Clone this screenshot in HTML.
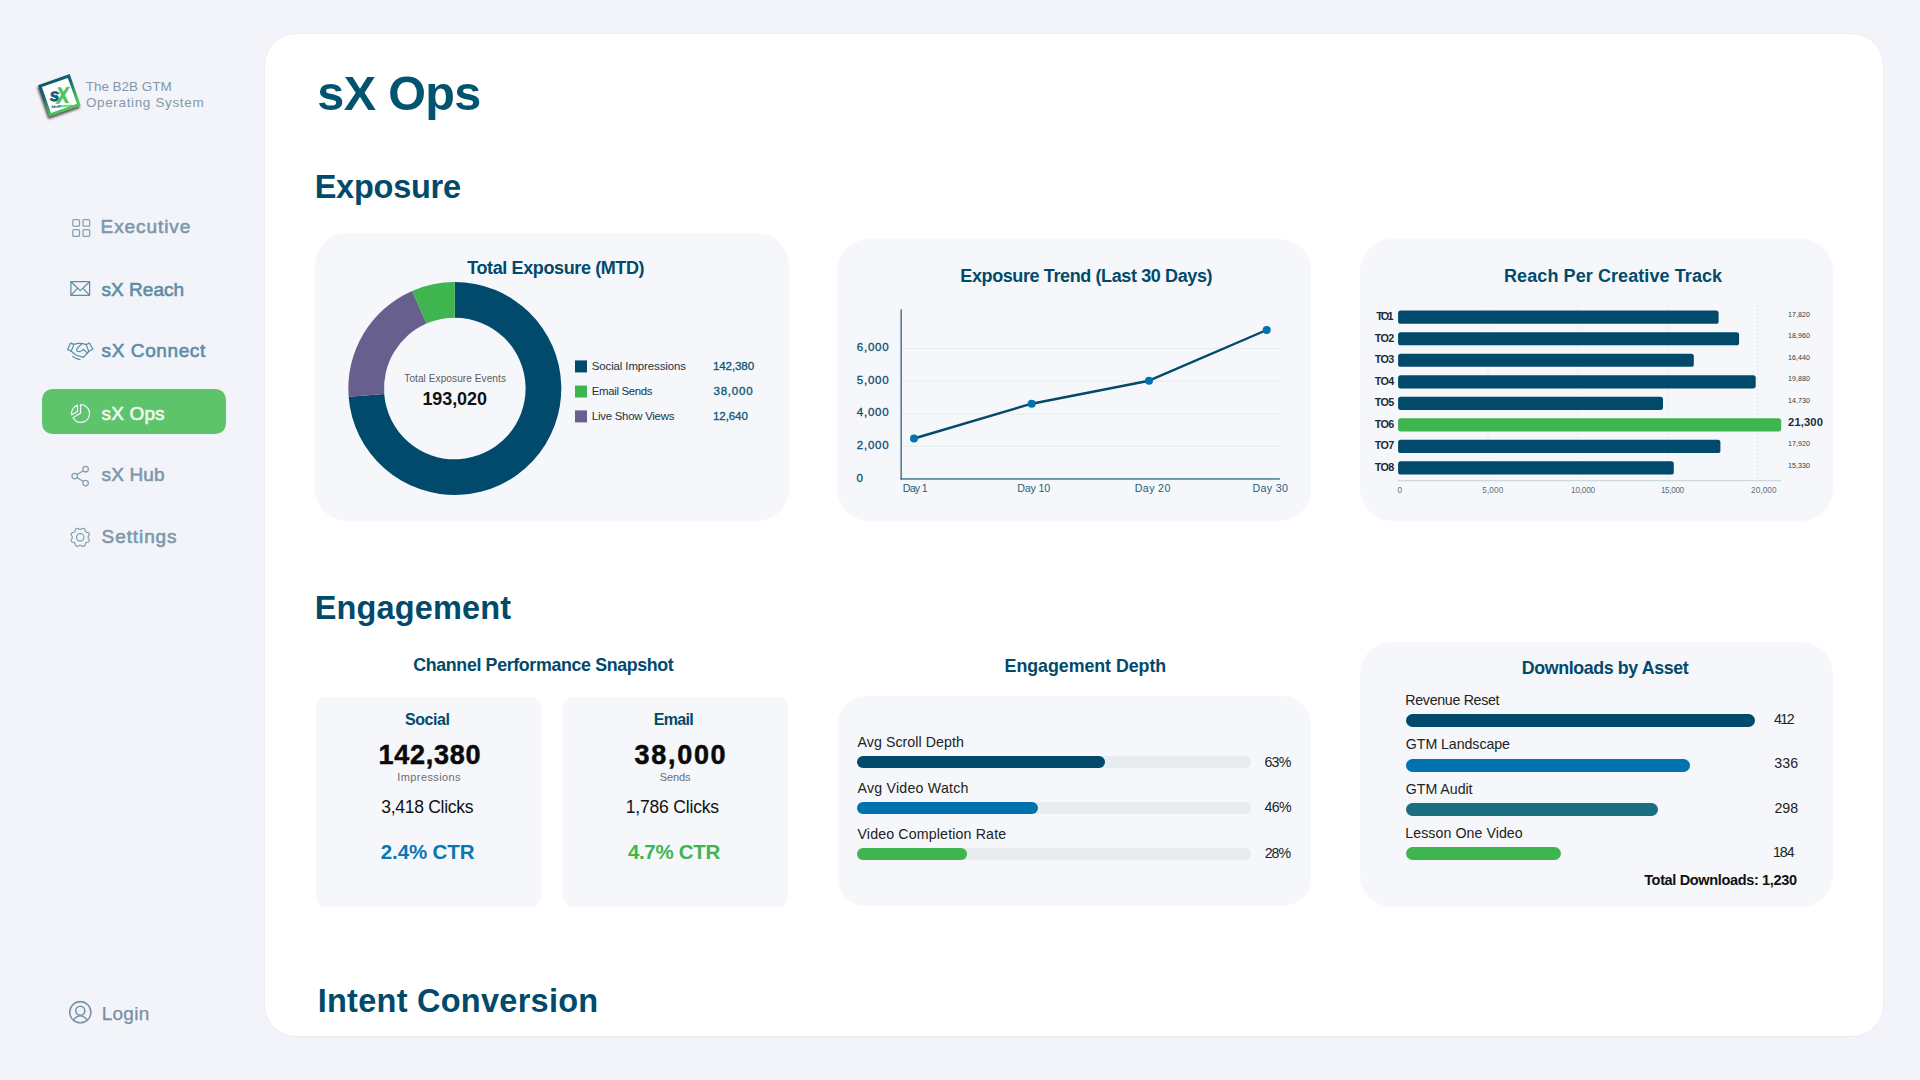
<!DOCTYPE html>
<html lang="en">
<head>
<meta charset="utf-8">
<title>sX Ops</title>
<style>
*{box-sizing:border-box;margin:0;padding:0}
html,body{width:1920px;height:1080px;overflow:hidden;background:#f2f4f9;font-family:"Liberation Sans",sans-serif}
.t{position:absolute;white-space:nowrap;line-height:1;font-weight:400}
.panel{position:absolute;left:264px;top:33px;width:1620px;height:1004px;background:#fff;border:1px solid #ececef;border-radius:32px}
.card{position:absolute;background:#f5f7fb;border-radius:32px}
.pill{position:absolute;left:42px;top:388.5px;width:184.2px;height:45.5px;border-radius:10.5px;background:#5dc46c}
.bar{position:absolute;border-radius:7px}
svg{position:absolute;left:0;top:0;overflow:visible}
</style>
</head>
<body>
<div class="panel"></div>
<div class="pill"></div>
<!-- exposure cards -->
<div class="card" style="left:315px;top:233px;width:473.5px;height:288px"></div>
<div class="card" style="left:837px;top:239px;width:473.5px;height:282px"></div>
<div class="card" style="left:1359.5px;top:239px;width:473px;height:282px"></div>
<!-- engagement cards -->
<div class="card" style="left:316px;top:697px;width:225px;height:209.5px;border-radius:10px"></div>
<div class="card" style="left:563px;top:697px;width:225px;height:209.5px;border-radius:10px"></div>
<div class="card" style="left:837.5px;top:696.2px;width:473px;height:210px;border-radius:28px"></div>
<div class="card" style="left:1360px;top:642px;width:473px;height:265.2px"></div>
<!-- engagement depth bars -->
<div class="bar" style="left:857px;top:756.2px;width:394px;height:12.2px;background:#e6ecf0"></div>
<div class="bar" style="left:857px;top:756.2px;width:248.4px;height:12.2px;background:#024a6b"></div>
<div class="bar" style="left:857px;top:802px;width:394px;height:12.2px;background:#e6ecf0"></div>
<div class="bar" style="left:857px;top:802px;width:181.4px;height:12.2px;background:#0073ae"></div>
<div class="bar" style="left:857px;top:848px;width:394px;height:12.2px;background:#e6ecf0"></div>
<div class="bar" style="left:857px;top:848px;width:110.4px;height:12.2px;background:#3fb550"></div>
<!-- downloads bars -->
<div class="bar" style="left:1405.6px;top:714.2px;width:349.2px;height:13.1px;background:#024a6b"></div>
<div class="bar" style="left:1405.6px;top:758.8px;width:284.6px;height:13.1px;background:#0073ae"></div>
<div class="bar" style="left:1405.6px;top:803.1px;width:252.3px;height:13.1px;background:#196e82"></div>
<div class="bar" style="left:1405.6px;top:847.4px;width:155.6px;height:13.1px;background:#3fb550"></div>

<svg width="1920" height="1080" viewBox="0 0 1920 1080">
<defs>
<linearGradient id="lg" x1="0" y1="0" x2="0.25" y2="1"><stop offset="0" stop-color="#0b5872"/><stop offset="0.4" stop-color="#17696f"/><stop offset="1" stop-color="#4fc35a"/></linearGradient>
<filter id="sh" x="-30%" y="-30%" width="160%" height="160%"><feGaussianBlur stdDeviation="0.9"/></filter>
</defs>
<!-- logo -->
<g transform="translate(59.4 95.4) rotate(-19.3)">
<rect x="-18.3" y="-15.0" width="33.5" height="33.8" fill="#3a2626" opacity="0.8" filter="url(#sh)"/>
<rect x="-15.25" y="-15.25" width="30.5" height="30.5" fill="#fff" stroke="url(#lg)" stroke-width="3"/>
</g>
<g font-family="Liberation Sans, sans-serif" font-weight="700" font-style="italic" transform="rotate(-4 60 96)">
<text x="49.6" y="100.6" font-size="17.5" fill="#0b5f7a" stroke="#0b5f7a" stroke-width="0.7">s</text>
<text transform="translate(56.6 103.2) scale(0.84 1)" x="0" y="0" font-size="22.5" fill="#4fc35a" stroke="#4fc35a" stroke-width="0.7">X</text>
<text x="50.6" y="107.2" font-size="2.9" fill="#0b5f7a" stroke="#0b5f7a" stroke-width="0.2">SALES<tspan fill="#4fc35a" stroke="#4fc35a">Xchange</tspan></text>
</g>
<g fill="none" stroke="#84a0b1" stroke-width="1.25">
<rect x="72.8" y="219.5" width="6.7" height="6.7" rx="1"/>
<rect x="83.0" y="219.5" width="6.7" height="6.7" rx="1"/>
<rect x="72.8" y="229.7" width="6.7" height="6.7" rx="1"/>
<rect x="83.0" y="229.7" width="6.7" height="6.7" rx="1"/>
</g>
<g fill="none" stroke="#5c8da6" stroke-width="1.25" stroke-linejoin="round"><rect x="70.9" y="281.7" width="18.7" height="13.7"/><path d="M70.9 281.7L80.25 290.6L89.6 281.7M70.9 295.4L77.6 288.1M89.6 295.4L82.9 288.1"/></g>
<g fill="none" stroke="#5c8da6" stroke-width="1.2" stroke-linejoin="round" stroke-linecap="round"><path d="M70.6 343.1L73.9 344.4L71.2 351.3L67.6 349.4Z"/><path d="M89.4 343.0L86.2 344.6L88.8 351.5L92.9 349.3Z"/><path d="M73.9 344.4Q79.9 342.2 86.2 344.6"/><path d="M81.6 344.0L77.0 348.6Q75.9 350.6 78.0 351.4Q80.6 352.2 83.4 349.4L87.1 352.7"/><path d="M71.2 351.3L76.4 355.2L83.4 357.4L88.8 351.5"/><path d="M72.6 356.4Q75.5 358.7 80.0 359.6"/></g>
<g fill="none" stroke="#f0f0fa" stroke-width="1.3" stroke-linejoin="round"><path d="M80.6 404.7L80.6 413.1L73.0 417.8A8.85 8.85 0 1 0 80.6 404.7Z"/><path d="M77.5 405.2L77.5 411.5L71.6 414.9A8.85 8.85 0 0 1 77.5 405.2Z"/></g>
<g fill="none" stroke="#84a0b1" stroke-width="1.25"><circle cx="85.6" cy="469.2" r="2.75"/><circle cx="74.7" cy="476.1" r="2.75"/><circle cx="85.6" cy="483.0" r="2.75"/><path d="M77.1 474.6L83.2 470.7M77.1 477.6L83.2 481.5"/></g>
<g fill="none" stroke="#84a0b1" stroke-width="1.25" stroke-linejoin="round"><path d="M80.22 529.46L80.53 529.44L80.85 529.37L81.18 529.25L81.53 529.09L81.93 528.78L82.35 528.49L82.75 528.37L83.15 528.34L83.53 528.38L83.89 528.49L84.23 528.67L84.53 528.91L84.78 529.21L84.99 529.58L85.08 530.08L85.14 530.58L85.27 530.95L85.43 531.26L85.60 531.54L85.81 531.77L86.04 531.98L86.32 532.15L86.63 532.31L87.00 532.44L87.50 532.50L88.00 532.59L88.37 532.80L88.67 533.05L88.91 533.35L89.09 533.69L89.20 534.05L89.24 534.43L89.21 534.83L89.09 535.23L88.80 535.65L88.49 536.05L88.33 536.40L88.21 536.73L88.14 537.05L88.12 537.36L88.14 537.67L88.21 537.99L88.33 538.32L88.49 538.67L88.80 539.07L89.09 539.49L89.21 539.89L89.24 540.29L89.20 540.67L89.09 541.03L88.91 541.37L88.67 541.67L88.37 541.92L88.00 542.13L87.50 542.22L87.00 542.28L86.63 542.41L86.32 542.57L86.04 542.74L85.81 542.95L85.60 543.18L85.43 543.46L85.27 543.77L85.14 544.14L85.08 544.64L84.99 545.14L84.78 545.51L84.53 545.81L84.23 546.05L83.89 546.23L83.53 546.34L83.15 546.38L82.75 546.35L82.35 546.23L81.93 545.94L81.53 545.63L81.18 545.47L80.85 545.35L80.53 545.28L80.22 545.26L79.91 545.28L79.59 545.35L79.26 545.47L78.91 545.63L78.51 545.94L78.09 546.23L77.69 546.35L77.29 546.38L76.91 546.34L76.55 546.23L76.21 546.05L75.91 545.81L75.66 545.51L75.45 545.14L75.36 544.64L75.30 544.14L75.17 543.77L75.01 543.46L74.84 543.18L74.63 542.95L74.40 542.74L74.12 542.57L73.81 542.41L73.44 542.28L72.94 542.22L72.44 542.13L72.07 541.92L71.77 541.67L71.53 541.37L71.35 541.03L71.24 540.67L71.20 540.29L71.23 539.89L71.35 539.49L71.64 539.07L71.95 538.67L72.11 538.32L72.23 537.99L72.30 537.67L72.32 537.36L72.30 537.05L72.23 536.73L72.11 536.40L71.95 536.05L71.64 535.65L71.35 535.23L71.23 534.83L71.20 534.43L71.24 534.05L71.35 533.69L71.53 533.35L71.77 533.05L72.07 532.80L72.44 532.59L72.94 532.50L73.44 532.44L73.81 532.31L74.12 532.15L74.40 531.98L74.63 531.77L74.84 531.54L75.01 531.26L75.17 530.95L75.30 530.58L75.36 530.08L75.45 529.58L75.66 529.21L75.91 528.91L76.21 528.67L76.55 528.49L76.91 528.38L77.29 528.34L77.69 528.37L78.09 528.49L78.51 528.78L78.91 529.09L79.26 529.25L79.59 529.37L79.91 529.44Z"/><circle cx="80.22" cy="537.36" r="3.7"/></g>
<g fill="none" stroke="#7c95a6" stroke-width="1.6"><circle cx="80.3" cy="1012.2" r="10.6"/><circle cx="80.3" cy="1010.7" r="4.5"/><path d="M73.3 1020.2Q80.3 1011.2 87.3 1020.2"/></g>
<path d="M454.80 282.00A106.5 106.5 0 1 1 348.62 396.76L384.21 393.99A70.8 70.8 0 1 0 454.80 317.70Z" fill="#024a6b"/>
<path d="M348.62 396.76A106.5 106.5 0 0 1 412.21 290.89L426.48 323.61A70.8 70.8 0 0 0 384.21 393.99Z" fill="#675f8d"/>
<path d="M412.21 290.89A106.5 106.5 0 0 1 454.80 282.00L454.80 317.70A70.8 70.8 0 0 0 426.48 323.61Z" fill="#3fb550"/>
<rect x="575" y="360.4" width="12" height="12" fill="#024a6b"/>
<rect x="575" y="385.5" width="12" height="12" fill="#3fb550"/>
<rect x="575" y="410.4" width="12" height="12" fill="#675f8d"/>
<rect x="901.5" y="348.0" width="378.4" height="1" fill="#e9ebee"/>
<rect x="901.5" y="380.8" width="378.4" height="1" fill="#e9ebee"/>
<rect x="901.5" y="413.7" width="378.4" height="1" fill="#e9ebee"/>
<rect x="901.5" y="445.8" width="378.4" height="1" fill="#e9ebee"/>
<rect x="900.5" y="309.3" width="1.3" height="170.3" fill="#2a6480"/>
<rect x="900.5" y="478.3" width="379.4" height="1.3" fill="#2a6480"/>
<path d="M914 438.5L1031.7 403.7L1149 380.7L1266.7 330" fill="none" stroke="#024a6b" stroke-width="2.4" stroke-linejoin="round"/>
<circle cx="914" cy="438.5" r="4" fill="#0073ae"/>
<circle cx="1031.7" cy="403.7" r="4" fill="#0073ae"/>
<circle cx="1149" cy="380.7" r="4" fill="#0073ae"/>
<circle cx="1266.7" cy="330" r="4" fill="#0073ae"/>
<path d="M1488.0 305V480" stroke="#e3e7ec" stroke-width="1" stroke-dasharray="2 2"/>
<path d="M1578.0 305V480" stroke="#e3e7ec" stroke-width="1" stroke-dasharray="2 2"/>
<path d="M1667.9 305V480" stroke="#e3e7ec" stroke-width="1" stroke-dasharray="2 2"/>
<path d="M1757.8 305V480" stroke="#e3e7ec" stroke-width="1" stroke-dasharray="2 2"/>
<rect x="1398.1" y="310.60" width="320.5" height="13.2" rx="2.6" fill="#024a6b"/>
<rect x="1398.1" y="332.13" width="341.0" height="13.2" rx="2.6" fill="#024a6b"/>
<rect x="1398.1" y="353.66" width="295.7" height="13.2" rx="2.6" fill="#024a6b"/>
<rect x="1398.1" y="375.19" width="357.6" height="13.2" rx="2.6" fill="#024a6b"/>
<rect x="1398.1" y="396.72" width="264.9" height="13.2" rx="2.6" fill="#024a6b"/>
<rect x="1398.1" y="418.25" width="383.1" height="13.2" rx="2.6" fill="#3fb550"/>
<rect x="1398.1" y="439.78" width="322.3" height="13.2" rx="2.6" fill="#024a6b"/>
<rect x="1398.1" y="461.31" width="275.7" height="13.2" rx="2.6" fill="#024a6b"/>
<rect x="1398.1" y="480.2" width="383.1" height="1" fill="#c3d1d9"/>
</svg>
<aside>
<nav>
<span class="t" style="left:85.70px;top:79px;line-height:15px;font-size:13.5px;letter-spacing:-0.023px;color:#8299a8;">The B2B GTM</span>
<span class="t" style="left:85.90px;top:95px;line-height:15px;font-size:13.5px;letter-spacing:0.647px;color:#8299a8;">Operating System</span>
<span class="t" style="left:100.60px;top:216px;line-height:21px;font-size:19px;letter-spacing:0.924px;color:#7d98aa;-webkit-text-stroke:0.6px currentColor;">Executive</span>
<span class="t" style="left:101.60px;top:279px;line-height:21px;font-size:19px;letter-spacing:0.013px;color:#5c8da6;-webkit-text-stroke:0.6px currentColor;">sX Reach</span>
<span class="t" style="left:101.60px;top:340px;line-height:21px;font-size:19px;letter-spacing:0.596px;color:#5c8da6;-webkit-text-stroke:0.6px currentColor;">sX Connect</span>
<span class="t" style="left:101.60px;top:403px;line-height:21px;font-size:19px;letter-spacing:0.141px;color:#eefaf0;-webkit-text-stroke:0.6px currentColor;">sX Ops</span>
<span class="t" style="left:101.60px;top:464px;line-height:21px;font-size:19px;letter-spacing:0.132px;color:#7d98aa;-webkit-text-stroke:0.6px currentColor;">sX Hub</span>
<span class="t" style="left:101.60px;top:526px;line-height:21px;font-size:19px;letter-spacing:0.907px;color:#7d98aa;-webkit-text-stroke:0.6px currentColor;">Settings</span>
<span class="t" style="left:101.70px;top:1003px;line-height:21px;font-size:19px;letter-spacing:0.270px;color:#7690a2;-webkit-text-stroke:0.25px currentColor;">Login</span>
</nav>
</aside>
<main>
<h1 class="t" style="left:317.30px;top:66px;line-height:54px;font-size:48.5px;font-weight:700;letter-spacing:-0.630px;color:#01546f;">sX Ops</h1>
<h2 class="t" style="left:314.70px;top:169px;line-height:36px;font-size:32.5px;font-weight:700;letter-spacing:-0.247px;color:#024a6b;">Exposure</h2>
<h2 class="t" style="left:314.70px;top:590px;line-height:36px;font-size:32.5px;font-weight:700;letter-spacing:0.155px;color:#024a6b;">Engagement</h2>
<h2 class="t" style="left:317.70px;top:983px;line-height:36px;font-size:32.5px;font-weight:700;letter-spacing:0.262px;color:#024a6b;">Intent Conversion</h2>
<h3 class="t" style="left:467.20px;top:258px;line-height:20px;font-size:18px;font-weight:700;letter-spacing:-0.383px;color:#024a6b;">Total Exposure (MTD)</h3>
<h3 class="t" style="left:960.30px;top:266px;line-height:20px;font-size:18px;font-weight:700;letter-spacing:-0.389px;color:#024a6b;">Exposure Trend (Last 30 Days)</h3>
<h3 class="t" style="left:1504.00px;top:266px;line-height:20px;font-size:18px;font-weight:700;letter-spacing:0.086px;color:#024a6b;">Reach Per Creative Track</h3>
<h3 class="t" style="left:413.30px;top:655px;line-height:20px;font-size:17.8px;font-weight:700;letter-spacing:-0.345px;color:#024a6b;">Channel Performance Snapshot</h3>
<h3 class="t" style="left:1004.60px;top:656px;line-height:20px;font-size:17.8px;font-weight:700;letter-spacing:-0.031px;color:#024a6b;">Engagement Depth</h3>
<h3 class="t" style="left:1521.80px;top:658px;line-height:20px;font-size:17.8px;font-weight:700;letter-spacing:-0.375px;color:#024a6b;">Downloads by Asset</h3>
<span class="t" style="left:404.30px;top:373px;line-height:11px;font-size:10.1px;letter-spacing:0.061px;color:#5c5c5c;">Total Exposure Events</span>
<span class="t" style="left:422.40px;top:389px;line-height:20px;font-size:18px;font-weight:700;letter-spacing:-0.076px;color:#111;">193,020</span>
<span class="t" style="left:591.80px;top:360px;line-height:12px;font-size:11.4px;letter-spacing:-0.088px;color:#22313f;">Social Impressions</span>
<span class="t" style="left:591.80px;top:385px;line-height:12px;font-size:11.4px;letter-spacing:-0.325px;color:#22313f;">Email Sends</span>
<span class="t" style="left:591.80px;top:410px;line-height:12px;font-size:11.4px;letter-spacing:-0.236px;color:#22313f;">Live Show Views</span>
<span class="t" style="left:712.90px;top:359px;line-height:13px;font-size:11.6px;letter-spacing:-0.110px;color:#0f5573;-webkit-text-stroke:0.3px currentColor;">142,380</span>
<span class="t" style="left:713.50px;top:384px;line-height:13px;font-size:11.6px;letter-spacing:0.737px;color:#0f5573;-webkit-text-stroke:0.3px currentColor;">38,000</span>
<span class="t" style="left:713.00px;top:409px;line-height:13px;font-size:11.6px;letter-spacing:-0.123px;color:#0f5573;-webkit-text-stroke:0.3px currentColor;">12,640</span>
<span class="t" style="left:856.70px;top:341px;line-height:12px;font-size:11.5px;letter-spacing:0.804px;color:#0e4d6b;-webkit-text-stroke:0.3px currentColor;">6,000</span>
<span class="t" style="left:856.70px;top:374px;line-height:12px;font-size:11.5px;letter-spacing:0.804px;color:#0e4d6b;-webkit-text-stroke:0.3px currentColor;">5,000</span>
<span class="t" style="left:856.70px;top:406px;line-height:12px;font-size:11.5px;letter-spacing:0.804px;color:#0e4d6b;-webkit-text-stroke:0.3px currentColor;">4,000</span>
<span class="t" style="left:856.70px;top:439px;line-height:12px;font-size:11.5px;letter-spacing:0.804px;color:#0e4d6b;-webkit-text-stroke:0.3px currentColor;">2,000</span>
<span class="t" style="left:856.60px;top:472px;line-height:12px;font-size:11.5px;color:#0e4d6b;-webkit-text-stroke:0.3px currentColor;">0</span>
<span class="t" style="left:902.70px;top:482px;line-height:12px;font-size:10.7px;letter-spacing:-0.744px;color:#245f7c;">Day 1</span>
<span class="t" style="left:1017.30px;top:482px;line-height:12px;font-size:10.7px;letter-spacing:-0.204px;color:#245f7c;">Day 10</span>
<span class="t" style="left:1134.80px;top:482px;line-height:12px;font-size:10.7px;letter-spacing:0.336px;color:#245f7c;">Day 20</span>
<span class="t" style="left:1252.50px;top:482px;line-height:12px;font-size:10.7px;letter-spacing:0.336px;color:#245f7c;">Day 30</span>
<span class="t" style="left:1376.20px;top:310px;line-height:12px;font-size:10.8px;font-weight:700;letter-spacing:-1.749px;color:#1d2b39;">TO1</span>
<span class="t" style="left:1374.70px;top:332px;line-height:12px;font-size:10.8px;font-weight:700;letter-spacing:-0.649px;color:#1d2b39;">TO2</span>
<span class="t" style="left:1374.70px;top:353px;line-height:12px;font-size:10.8px;font-weight:700;letter-spacing:-0.649px;color:#1d2b39;">TO3</span>
<span class="t" style="left:1374.70px;top:375px;line-height:12px;font-size:10.8px;font-weight:700;letter-spacing:-0.649px;color:#1d2b39;">TO4</span>
<span class="t" style="left:1374.70px;top:396px;line-height:12px;font-size:10.8px;font-weight:700;letter-spacing:-0.649px;color:#1d2b39;">TO5</span>
<span class="t" style="left:1374.70px;top:418px;line-height:12px;font-size:10.8px;font-weight:700;letter-spacing:-0.649px;color:#1d2b39;">TO6</span>
<span class="t" style="left:1374.70px;top:439px;line-height:12px;font-size:10.8px;font-weight:700;letter-spacing:-0.649px;color:#1d2b39;">TO7</span>
<span class="t" style="left:1374.70px;top:461px;line-height:12px;font-size:10.8px;font-weight:700;letter-spacing:-0.649px;color:#1d2b39;">TO8</span>
<span class="t" style="left:1788.10px;top:311px;line-height:8px;font-size:7.1px;letter-spacing:0.030px;color:#2f3b47;">17,820</span>
<span class="t" style="left:1788.10px;top:332px;line-height:8px;font-size:7.1px;letter-spacing:0.030px;color:#2f3b47;">18,960</span>
<span class="t" style="left:1788.10px;top:354px;line-height:8px;font-size:7.1px;letter-spacing:0.030px;color:#2f3b47;">16,440</span>
<span class="t" style="left:1788.10px;top:375px;line-height:8px;font-size:7.1px;letter-spacing:0.030px;color:#2f3b47;">19,880</span>
<span class="t" style="left:1788.10px;top:397px;line-height:8px;font-size:7.1px;letter-spacing:0.030px;color:#2f3b47;">14,730</span>
<span class="t" style="left:1788.10px;top:416px;line-height:12px;font-size:11.2px;font-weight:700;letter-spacing:0.121px;color:#1d2b39;">21,300</span>
<span class="t" style="left:1788.10px;top:440px;line-height:8px;font-size:7.1px;letter-spacing:0.030px;color:#2f3b47;">17,920</span>
<span class="t" style="left:1788.10px;top:462px;line-height:8px;font-size:7.1px;letter-spacing:0.030px;color:#2f3b47;">15,330</span>
<span class="t" style="left:1397.60px;top:486px;line-height:9px;font-size:8.2px;color:#5b7180;">0</span>
<span class="t" style="left:1482.30px;top:486px;line-height:9px;font-size:8.2px;letter-spacing:0.116px;color:#5b7180;">5,000</span>
<span class="t" style="left:1571.10px;top:486px;line-height:9px;font-size:8.2px;letter-spacing:-0.218px;color:#5b7180;">10,000</span>
<span class="t" style="left:1660.90px;top:486px;line-height:9px;font-size:8.2px;letter-spacing:-0.358px;color:#5b7180;">15,000</span>
<span class="t" style="left:1751.00px;top:486px;line-height:9px;font-size:8.2px;letter-spacing:0.102px;color:#5b7180;">20,000</span>
<span class="t" style="left:405.10px;top:711px;line-height:17px;font-size:16px;font-weight:700;letter-spacing:-0.478px;color:#024a6b;">Social</span>
<span class="t" style="left:378.50px;top:740px;line-height:30px;font-size:27px;font-weight:700;letter-spacing:0.753px;color:#0a0a0a;-webkit-text-stroke:0.5px currentColor;">142,380</span>
<span class="t" style="left:397.30px;top:771px;line-height:12px;font-size:11px;letter-spacing:0.400px;color:#6e6e6e;">Impressions</span>
<span class="t" style="left:381.20px;top:797px;line-height:20px;font-size:17.5px;letter-spacing:-0.279px;color:#111;">3,418 Clicks</span>
<span class="t" style="left:380.80px;top:840px;line-height:23px;font-size:20.5px;font-weight:700;letter-spacing:-0.121px;color:#0b76b4;">2.4% CTR</span>
<span class="t" style="left:653.80px;top:711px;line-height:17px;font-size:16px;font-weight:700;letter-spacing:-0.686px;color:#024a6b;">Email</span>
<span class="t" style="left:634.50px;top:740px;line-height:30px;font-size:27px;font-weight:700;letter-spacing:1.707px;color:#0a0a0a;-webkit-text-stroke:0.5px currentColor;">38,000</span>
<span class="t" style="left:659.70px;top:771px;line-height:12px;font-size:11px;letter-spacing:-0.097px;color:#6e6e6e;">Sends</span>
<span class="t" style="left:625.70px;top:797px;line-height:20px;font-size:17.5px;letter-spacing:-0.179px;color:#111;">1,786 Clicks</span>
<span class="t" style="left:627.90px;top:840px;line-height:23px;font-size:20.5px;font-weight:700;letter-spacing:-0.321px;color:#3fb550;">4.7% CTR</span>
<span class="t" style="left:857.50px;top:734px;line-height:16px;font-size:14.2px;letter-spacing:0.065px;color:#222;">Avg Scroll Depth</span>
<span class="t" style="left:857.50px;top:780px;line-height:16px;font-size:14.2px;letter-spacing:0.222px;color:#222;">Avg Video Watch</span>
<span class="t" style="left:857.50px;top:826px;line-height:16px;font-size:14.2px;letter-spacing:0.150px;color:#222;">Video Completion Rate</span>
<span class="t" style="left:1264.40px;top:754px;line-height:16px;font-size:14.2px;letter-spacing:-0.740px;color:#222;">63%</span>
<span class="t" style="left:1264.40px;top:799px;line-height:16px;font-size:14.2px;letter-spacing:-0.640px;color:#222;">46%</span>
<span class="t" style="left:1264.70px;top:845px;line-height:16px;font-size:14.2px;letter-spacing:-1.040px;color:#222;">28%</span>
<span class="t" style="left:1405.30px;top:692px;line-height:16px;font-size:14.2px;letter-spacing:-0.296px;color:#222;">Revenue Reset</span>
<span class="t" style="left:1405.80px;top:736px;line-height:16px;font-size:14.2px;letter-spacing:-0.058px;color:#222;">GTM Landscape</span>
<span class="t" style="left:1405.80px;top:781px;line-height:16px;font-size:14.2px;letter-spacing:-0.032px;color:#222;">GTM Audit</span>
<span class="t" style="left:1405.30px;top:825px;line-height:16px;font-size:14.2px;letter-spacing:0.061px;color:#222;">Lesson One Video</span>
<span class="t" style="left:1773.90px;top:711px;line-height:16px;font-size:14.2px;letter-spacing:-1.490px;color:#222;">412</span>
<span class="t" style="left:1774.20px;top:755px;line-height:16px;font-size:14.2px;letter-spacing:0.160px;color:#222;">336</span>
<span class="t" style="left:1774.40px;top:800px;line-height:16px;font-size:14.2px;letter-spacing:0.060px;color:#222;">298</span>
<span class="t" style="left:1773.00px;top:844px;line-height:16px;font-size:14.2px;letter-spacing:-1.040px;color:#222;">184</span>
<span class="t" style="left:1644.20px;top:872px;line-height:16px;font-size:14.5px;font-weight:700;letter-spacing:-0.348px;color:#111;">Total Downloads: 1,230</span>
</main>
</body>
</html>
